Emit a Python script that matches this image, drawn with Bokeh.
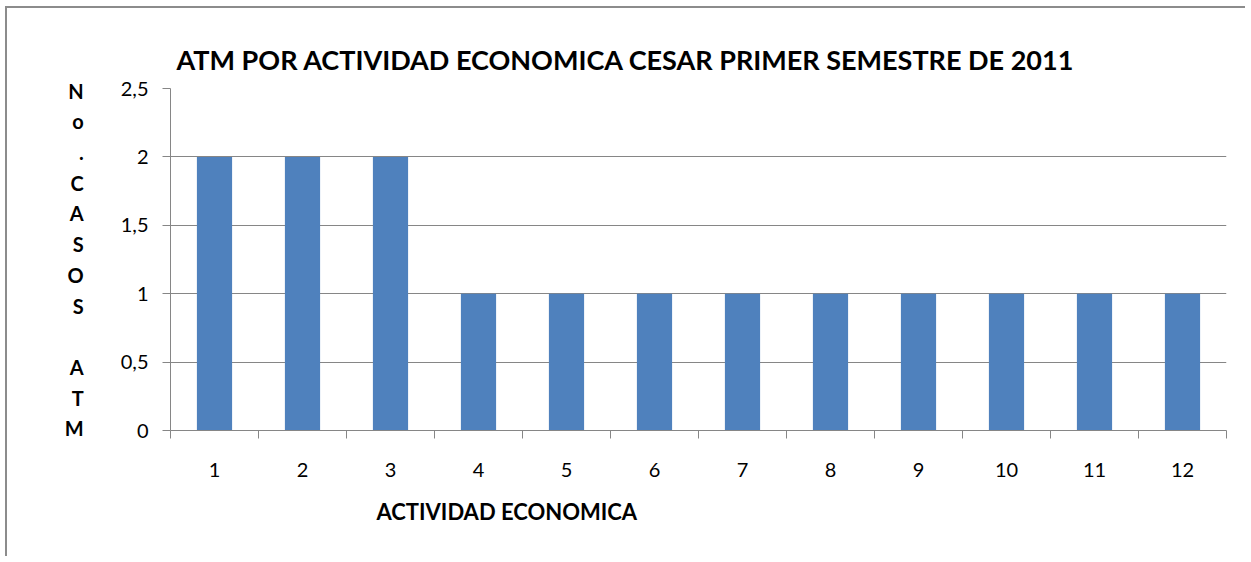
from bokeh.plotting import figure
from bokeh.models import FixedTicker, Range1d, Title
from bokeh.embed import file_html
from bokeh.resources import INLINE

categories = [1, 2, 3, 4, 5, 6, 7, 8, 9, 10, 11, 12]
values = [2, 2, 2, 1, 1, 1, 1, 1, 1, 1, 1, 1]
y_ticks = [0, 0.5, 1, 1.5, 2, 2.5]
y_tick_labels = ["0", "0,5", "1", "1,5", "2", "2,5"]
title = "ATM POR ACTIVIDAD ECONOMICA CESAR PRIMER SEMESTRE DE 2011"
x_title = "ACTIVIDAD ECONOMICA"
y_title = "N\no\n.\nC\nA\nS\nO\nS\n \nA\nT\nM"

FONT = "Lato"
GRAY = "#868686"

p = figure(width=1240, height=550, output_backend="svg", toolbar_location=None,
           x_range=Range1d(0.5, 12.5), y_range=Range1d(0, 2.5),
           min_border_left=163, min_border_right=21, min_border_top=80, min_border_bottom=128)
p.styles = {"border-left": "2px solid #8c8c8c", "border-top": "2px solid #8c8c8c",
            "margin-left": "5px", "margin-top": "6px"}
p.outline_line_color = None
p.background_fill_color = "white"

p.vbar(x=categories, top=values, width=0.4, fill_color="#4F81BD", line_color=None)

# title
p.title.text = title
p.title.text_font = FONT
p.title.text_font_style = "bold"
p.title.text_font_size = "27px"
p.title.text_color = "black"
p.title.align = "left"
p.title.offset = 6
p.title.standoff = 26

# y axis
ya = p.yaxis[0]
ya.ticker = FixedTicker(ticks=y_ticks)
ya.major_label_overrides = {t: l for t, l in zip(y_ticks, y_tick_labels)}
ya.major_label_text_font = FONT
ya.major_label_text_font_size = "20px"
ya.major_label_text_color = "black"
ya.axis_line_color = GRAY
ya.major_tick_line_color = GRAY
ya.major_tick_out = 8
ya.major_tick_in = 0
ya.minor_tick_line_color = None
ya.major_label_standoff = 14
ya.axis_label = y_title
ya.axis_label_orientation = "horizontal"
ya.axis_label_text_font = FONT
ya.axis_label_text_font_style = "bold"
ya.axis_label_text_font_size = "20px"
ya.axis_label_text_color = "black"
ya.axis_label_text_line_height = 1.28
ya.axis_label_standoff = 34

# x axis
xa = p.xaxis[0]
xa.ticker = FixedTicker(ticks=categories, minor_ticks=[c - 0.5 for c in categories] + [12.5])
xa.major_tick_line_color = None
xa.minor_tick_line_color = GRAY
xa.minor_tick_out = 8
xa.minor_tick_in = 0
xa.axis_line_color = GRAY
xa.major_label_text_font = FONT
xa.major_label_text_font_size = "20px"
xa.major_label_text_color = "black"
xa.major_label_standoff = 24

p.add_layout(Title(text=x_title, align="left", offset=206, standoff=33,
                   text_font=FONT, text_font_style="bold", text_font_size="22px",
                   text_color="black"), "below")

p.xgrid.grid_line_color = None
p.ygrid.grid_line_color = GRAY
p.ygrid.ticker = FixedTicker(ticks=y_ticks)

open("out.html", "w").write(file_html(p, INLINE))
